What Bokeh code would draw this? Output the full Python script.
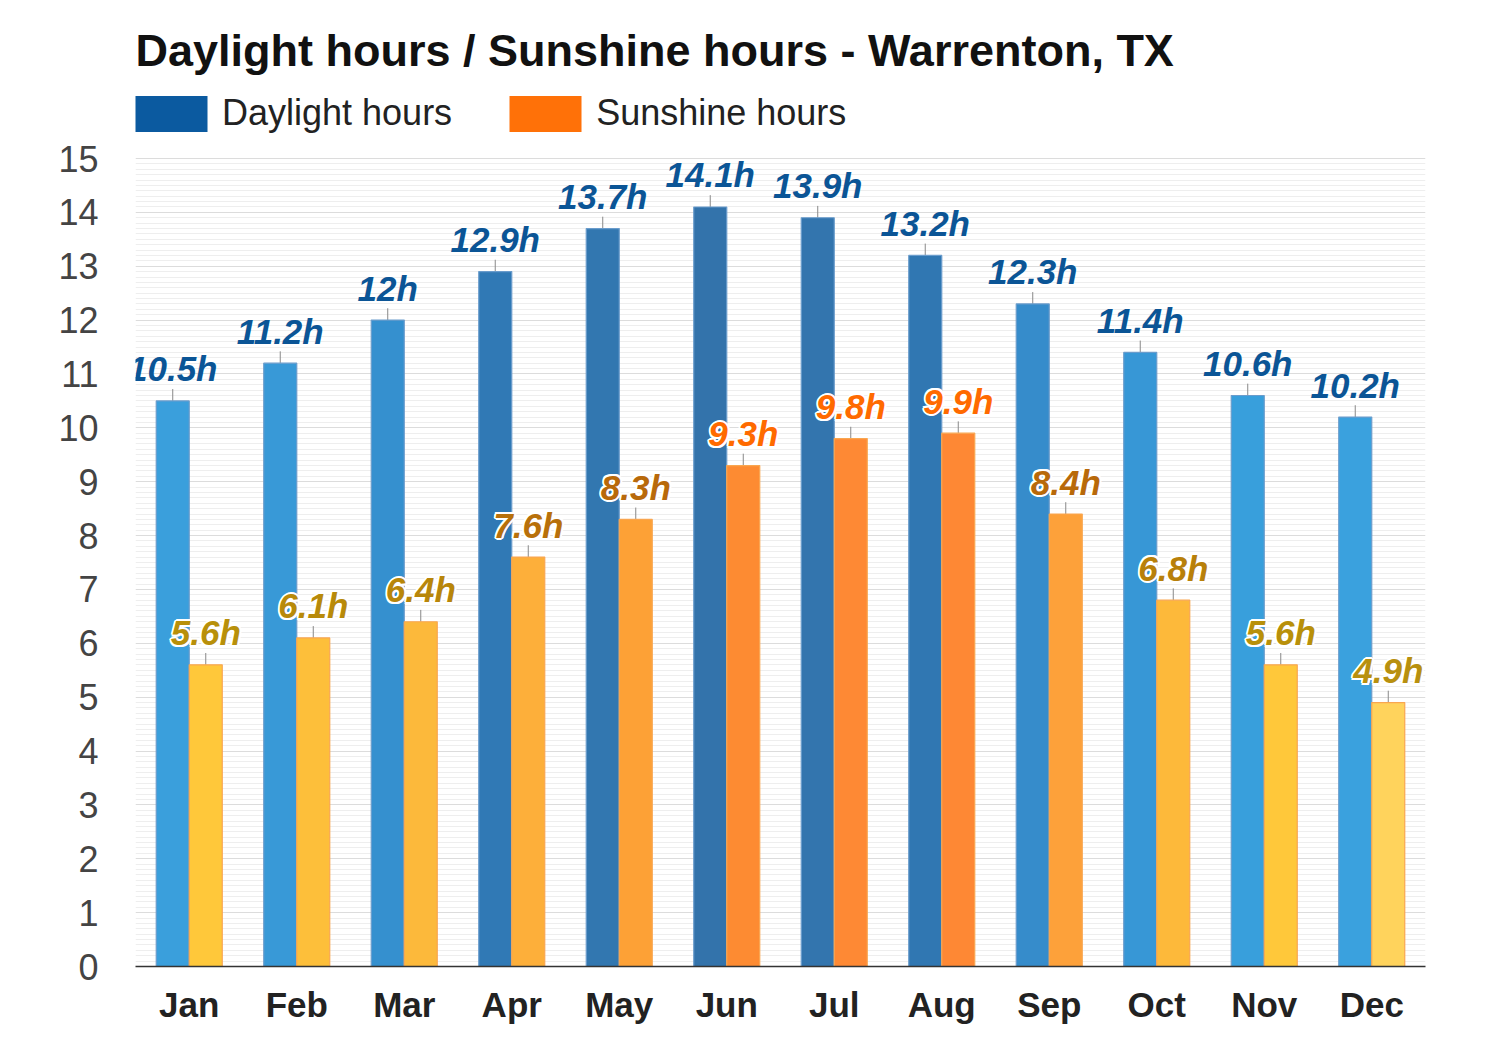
from bokeh.plotting import figure
from bokeh.models import (ColumnDataSource, FactorRange, Range1d, FixedTicker,
                          Legend, LegendItem, Label)
from bokeh.transform import dodge
from bokeh.core.properties import value
from bokeh.embed import file_html
from bokeh.resources import INLINE

months = ["Jan", "Feb", "Mar", "Apr", "May", "Jun", "Jul", "Aug", "Sep", "Oct", "Nov", "Dec"]
daylight = [10.5, 11.2, 12.0, 12.9, 13.7, 14.1, 13.9, 13.2, 12.3, 11.4, 10.6, 10.2]
sunshine = [5.6, 6.1, 6.4, 7.6, 8.3, 9.3, 9.8, 9.9, 8.4, 6.8, 5.6, 4.9]
y_ticks = list(range(0, 16))
y_max = 15

day_colors = ["#3a9fdc", "#3899d7", "#3590cf", "#3079b5", "#3277b0", "#3373ab",
              "#3375ae", "#3077b2", "#368ccb", "#3797d6", "#389fdc", "#3aa1de"]
sun_colors = ["#ffc83a", "#fdbf3a", "#fcb93b", "#fdaf3a", "#fda136", "#fd8b32",
              "#fe8934", "#fe8834", "#fda13a", "#fdb93a", "#ffc83a", "#ffd35c"]
sun_label_colors = ["#b8900a", "#b88a0a", "#b8860a", "#b8700a", "#b8690a", "#ff6a00",
                    "#ff6a00", "#ff6a00", "#b8690a", "#b8800a", "#b8900a", "#b8900f"]

FONT = "Liberation Sans"
TICK = 0.22  # leader tick length above each bar (data units)

# geometry: plot area spans x 135..1425, y 158 (=15) .. 966 (=0);
# the frame is extended up to the canvas top so title/legend can live inside it
BL, FW, BR = 135, 1290, 59
PLOT_TOP, PLOT_BOTTOM = 158, 966
BB = 74
FH = PLOT_BOTTOM
px_per_unit = (PLOT_BOTTOM - PLOT_TOP) / y_max
y_top = FH / px_per_unit

src = ColumnDataSource(dict(
    month=months,
    daylight=daylight,
    sunshine=sunshine,
    day_top=[v + TICK for v in daylight],
    sun_top=[v + TICK for v in sunshine],
    day_label=[f"{v:g}h" for v in daylight],
    sun_label=[f"{v:g}h" for v in sunshine],
    day_color=day_colors,
    sun_color=sun_colors,
    sun_label_color=sun_label_colors,
))

p = figure(x_range=FactorRange(*months, range_padding=0, factor_padding=0),
           y_range=Range1d(0, y_top),
           width=BL + FW + BR, height=FH + BB,
           min_border_left=BL, min_border_right=BR, min_border_top=0, min_border_bottom=BB,
           output_backend="svg", toolbar_location=None)
p.outline_line_color = None
p.background_fill_color = "white"
p.border_fill_color = "white"

W = 0.307
OFF = 0.1535
xd = dodge("month", -OFF, range=p.x_range)
xs = dodge("month", OFF, range=p.x_range)

# grid
minor = [round(i * 0.1, 1) for i in range(0, 151) if i % 10 != 0]
p.yaxis.ticker = FixedTicker(ticks=y_ticks, minor_ticks=minor)
p.ygrid.grid_line_color = "#dcdcdc"
p.ygrid.grid_line_width = 1
p.ygrid.minor_grid_line_color = "#eeeeee"
p.ygrid.minor_grid_line_width = 1
p.xgrid.grid_line_color = None

# leader ticks
p.segment(x0=xd, x1=xd, y0="daylight", y1="day_top", source=src, line_color="#888888", line_width=1)
p.segment(x0=xs, x1=xs, y0="sunshine", y1="sun_top", source=src, line_color="#888888", line_width=1)

# bars
p.vbar(x=xd, top="daylight", width=W, source=src,
       fill_color="day_color", line_color="#6a9ccc", line_width=1.2)
p.vbar(x=xs, top="sunshine", width=W, source=src,
       fill_color="sun_color", line_color="#f9a650", line_width=1.2)

# value labels
LOFF = -32
lab_kw = dict(source=src, text_font=value(FONT), text_font_size="35px",
              text_font_style="bold italic", text_align="center", text_baseline="alphabetic")
p.text(x=xd, y="daylight", text="day_label", text_color="#0b5596", y_offset=LOFF, **lab_kw)
for dx, dy in [(-2, 0), (2, 0), (0, -2), (0, 2), (-1.5, -1.5), (1.5, -1.5), (-1.5, 1.5), (1.5, 1.5)]:
    p.text(x=xs, y="sunshine", text="sun_label", text_color="white",
           x_offset=dx, y_offset=LOFF + dy, **lab_kw)
p.text(x=xs, y="sunshine", text="sun_label", text_color="sun_label_color", y_offset=LOFF, **lab_kw)

# legend (static-colour proxies: zero-height bars)
r_day = p.vbar(x=xd, top=0, width=W, source=src, fill_color="#0b5aa0", line_color=None)
r_sun = p.vbar(x=xs, top=0, width=W, source=src, fill_color="#ff7108", line_color=None)
legend = Legend(items=[LegendItem(label="Daylight hours", renderers=[r_day]),
                       LegendItem(label="Sunshine hours", renderers=[r_sun])],
                orientation="horizontal", location=(-9, FH - 135.5),
                glyph_width=90, glyph_height=45, label_height=45, label_standoff=6,
                spacing=48, padding=0, margin=0,
                label_text_font=FONT, label_text_font_size="36px", label_text_color="#222222",
                border_line_color=None, background_fill_alpha=0)
p.add_layout(legend, "center")

# title
title = Label(x=0, y=FH - 50, x_units="screen", y_units="screen",
              text="Daylight hours / Sunshine hours - Warrenton, TX",
              text_font=FONT, text_font_size="45px", text_font_style="bold",
              text_color="#111111", text_baseline="alphabetic", text_align="left")
p.add_layout(title, "center")

# axes
p.yaxis.axis_line_color = None
p.yaxis.major_tick_line_color = None
p.yaxis.minor_tick_line_color = None
p.yaxis.major_label_text_font = FONT
p.yaxis.major_label_text_font_size = "36px"
p.yaxis.major_label_text_color = "#444444"
p.yaxis.major_label_standoff = 31

p.xaxis.axis_line_color = "#333333"
p.xaxis.axis_line_width = 1.5
p.xaxis.major_tick_line_color = None
p.xaxis.minor_tick_line_color = None
p.xaxis.major_label_text_font = FONT
p.xaxis.major_label_text_font_size = "35px"
p.xaxis.major_label_text_font_style = "bold"
p.xaxis.major_label_text_color = "#222222"
p.xaxis.major_label_standoff = 12

open("out.html", "w").write(file_html(p, INLINE))
